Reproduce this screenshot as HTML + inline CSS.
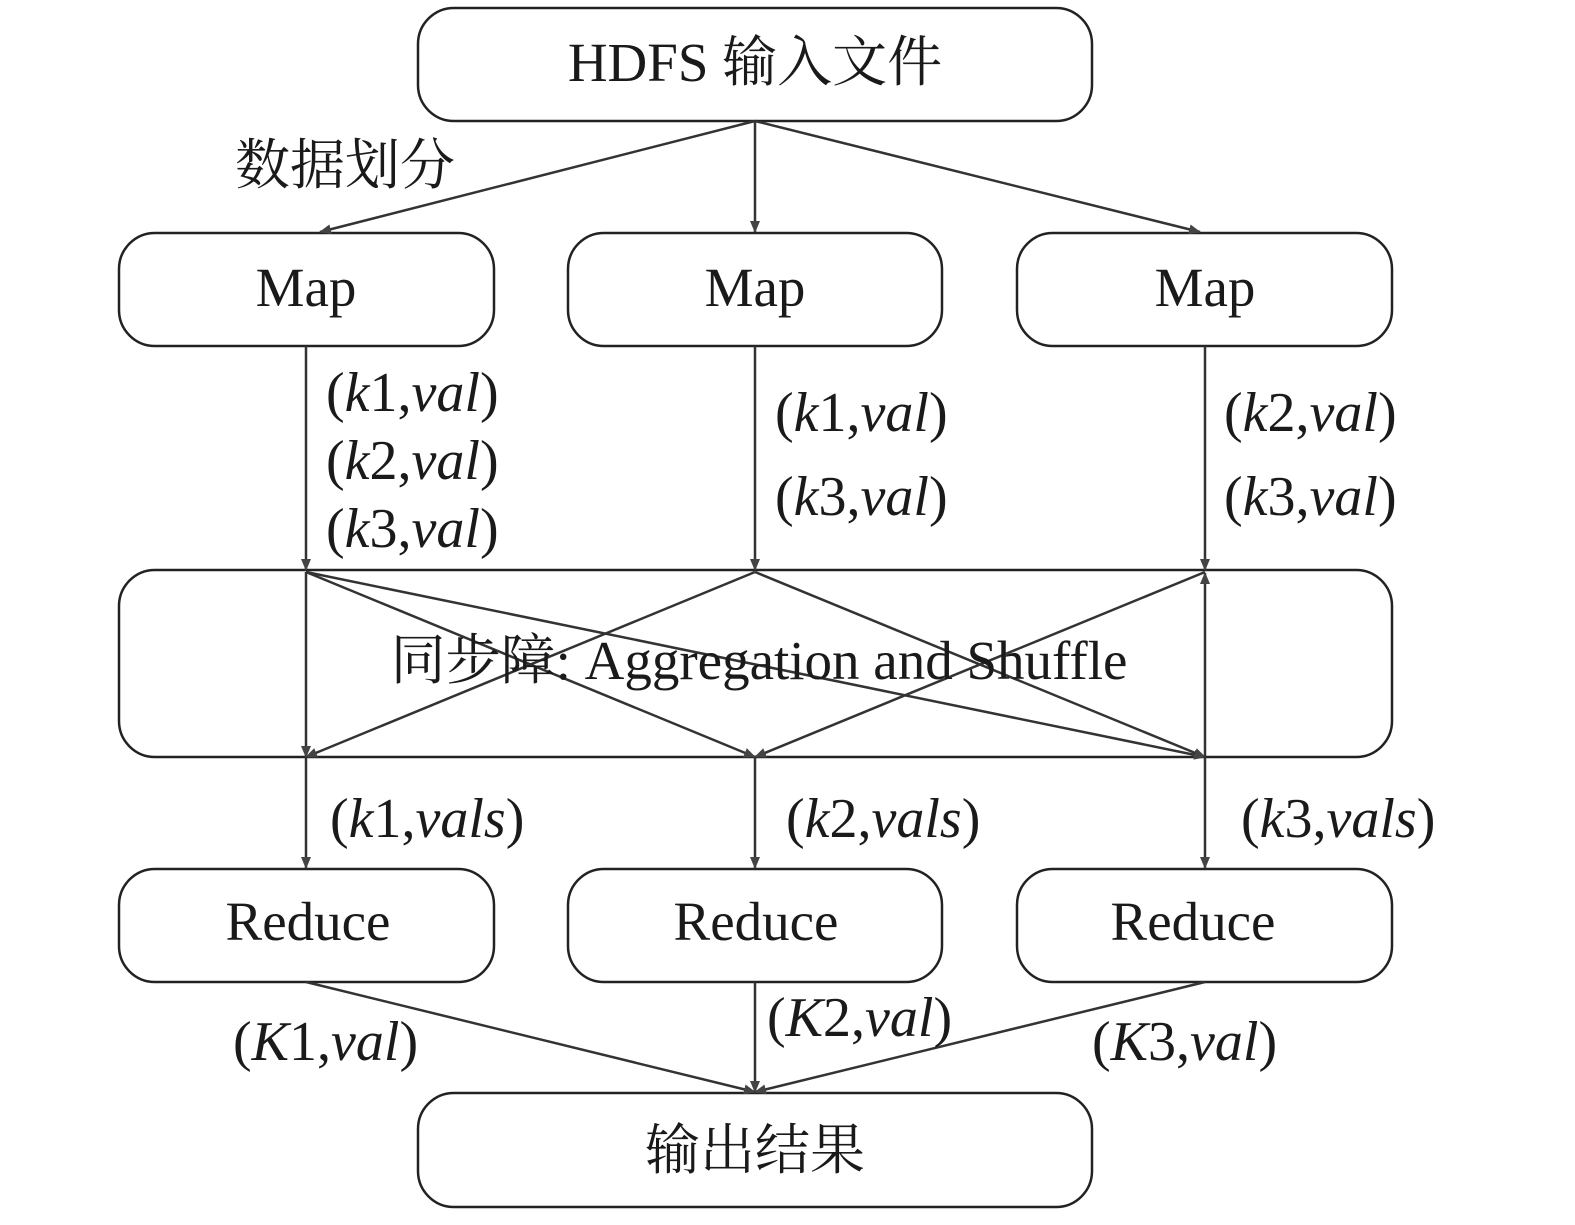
<!DOCTYPE html>
<html><head><meta charset="utf-8"><style>
html,body{margin:0;padding:0;background:#fff;}
svg text{font-family:"Liberation Serif","Noto Serif CJK SC",serif;fill:#1a1a1a;}
</style></head><body>
<svg width="1575" height="1220" viewBox="0 0 1575 1220" xmlns="http://www.w3.org/2000/svg">
<defs><marker id="a" markerWidth="12" markerHeight="10" refX="11" refY="5" orient="auto" markerUnits="userSpaceOnUse"><path d="M0,0 L12,5 L0,10 z" fill="#444"/></marker></defs>
<g fill="none" stroke="#222" stroke-width="2.5">
<rect x="418" y="8" width="674" height="113" rx="36"/>
<rect x="119" y="233" width="375" height="113" rx="36"/>
<rect x="568" y="233" width="374" height="113" rx="36"/>
<rect x="1017" y="233" width="375" height="113" rx="36"/>
<rect x="119" y="570" width="1273" height="187" rx="36"/>
<rect x="119" y="869" width="375" height="113" rx="36"/>
<rect x="568" y="869" width="374" height="113" rx="36"/>
<rect x="1017" y="869" width="375" height="113" rx="36"/>
<rect x="418" y="1093" width="674" height="114" rx="36"/>
</g>
<g stroke="#333" stroke-width="2.5" marker-end="url(#a)">
<line x1="755" y1="121" x2="320" y2="232"/>
<line x1="755" y1="121" x2="755" y2="232"/>
<line x1="755" y1="121" x2="1200" y2="232"/>
<line x1="306" y1="346" x2="306" y2="570"/>
<line x1="755" y1="346" x2="755" y2="570"/>
<line x1="1205" y1="346" x2="1205" y2="570"/>
<line x1="306" y1="572" x2="306" y2="757"/>
<line x1="306" y1="572" x2="755" y2="757"/>
<line x1="306" y1="572" x2="1205" y2="757"/>
<line x1="755" y1="572" x2="306" y2="757"/>
<line x1="755" y1="572" x2="1205" y2="757"/>
<line x1="1205" y1="572" x2="755" y2="757"/>
<line x1="1205" y1="757" x2="1205" y2="573"/>
<line x1="306" y1="757" x2="306" y2="868"/>
<line x1="755" y1="757" x2="755" y2="868"/>
<line x1="1205" y1="757" x2="1205" y2="868"/>
<line x1="306" y1="982" x2="755" y2="1092"/>
<line x1="755" y1="982" x2="755" y2="1092"/>
<line x1="1205" y1="982" x2="755" y2="1092"/>
</g>
<g font-size="55" text-anchor="middle">
<text x="755" y="81">HDFS 输入文件</text>
<text x="306" y="306">Map</text>
<text x="755" y="306">Map</text>
<text x="1205" y="306">Map</text>
<text x="759" y="679">同步障: Aggregation and Shuffle</text>
<text x="308" y="940">Reduce</text>
<text x="756" y="940">Reduce</text>
<text x="1193" y="940">Reduce</text>
<text x="755" y="1169">输出结果</text>
</g>
<text x="235" y="184" font-size="55">数据划分</text>
<g font-size="56">
<text x="326" y="411">(<tspan font-style="italic">k</tspan>1,<tspan font-style="italic">val</tspan>)</text>
<text x="326" y="479">(<tspan font-style="italic">k</tspan>2,<tspan font-style="italic">val</tspan>)</text>
<text x="326" y="547">(<tspan font-style="italic">k</tspan>3,<tspan font-style="italic">val</tspan>)</text>
<text x="775" y="431">(<tspan font-style="italic">k</tspan>1,<tspan font-style="italic">val</tspan>)</text>
<text x="775" y="515">(<tspan font-style="italic">k</tspan>3,<tspan font-style="italic">val</tspan>)</text>
<text x="1224" y="431">(<tspan font-style="italic">k</tspan>2,<tspan font-style="italic">val</tspan>)</text>
<text x="1224" y="515">(<tspan font-style="italic">k</tspan>3,<tspan font-style="italic">val</tspan>)</text>
<text x="330" y="837">(<tspan font-style="italic">k</tspan>1,<tspan font-style="italic">vals</tspan>)</text>
<text x="786" y="837">(<tspan font-style="italic">k</tspan>2,<tspan font-style="italic">vals</tspan>)</text>
<text x="1241" y="837">(<tspan font-style="italic">k</tspan>3,<tspan font-style="italic">vals</tspan>)</text>
<text x="233" y="1060">(<tspan font-style="italic">K</tspan>1,<tspan font-style="italic">val</tspan>)</text>
<text x="767" y="1036">(<tspan font-style="italic">K</tspan>2,<tspan font-style="italic">val</tspan>)</text>
<text x="1092" y="1060">(<tspan font-style="italic">K</tspan>3,<tspan font-style="italic">val</tspan>)</text>
</g>
</svg>
</body></html>
